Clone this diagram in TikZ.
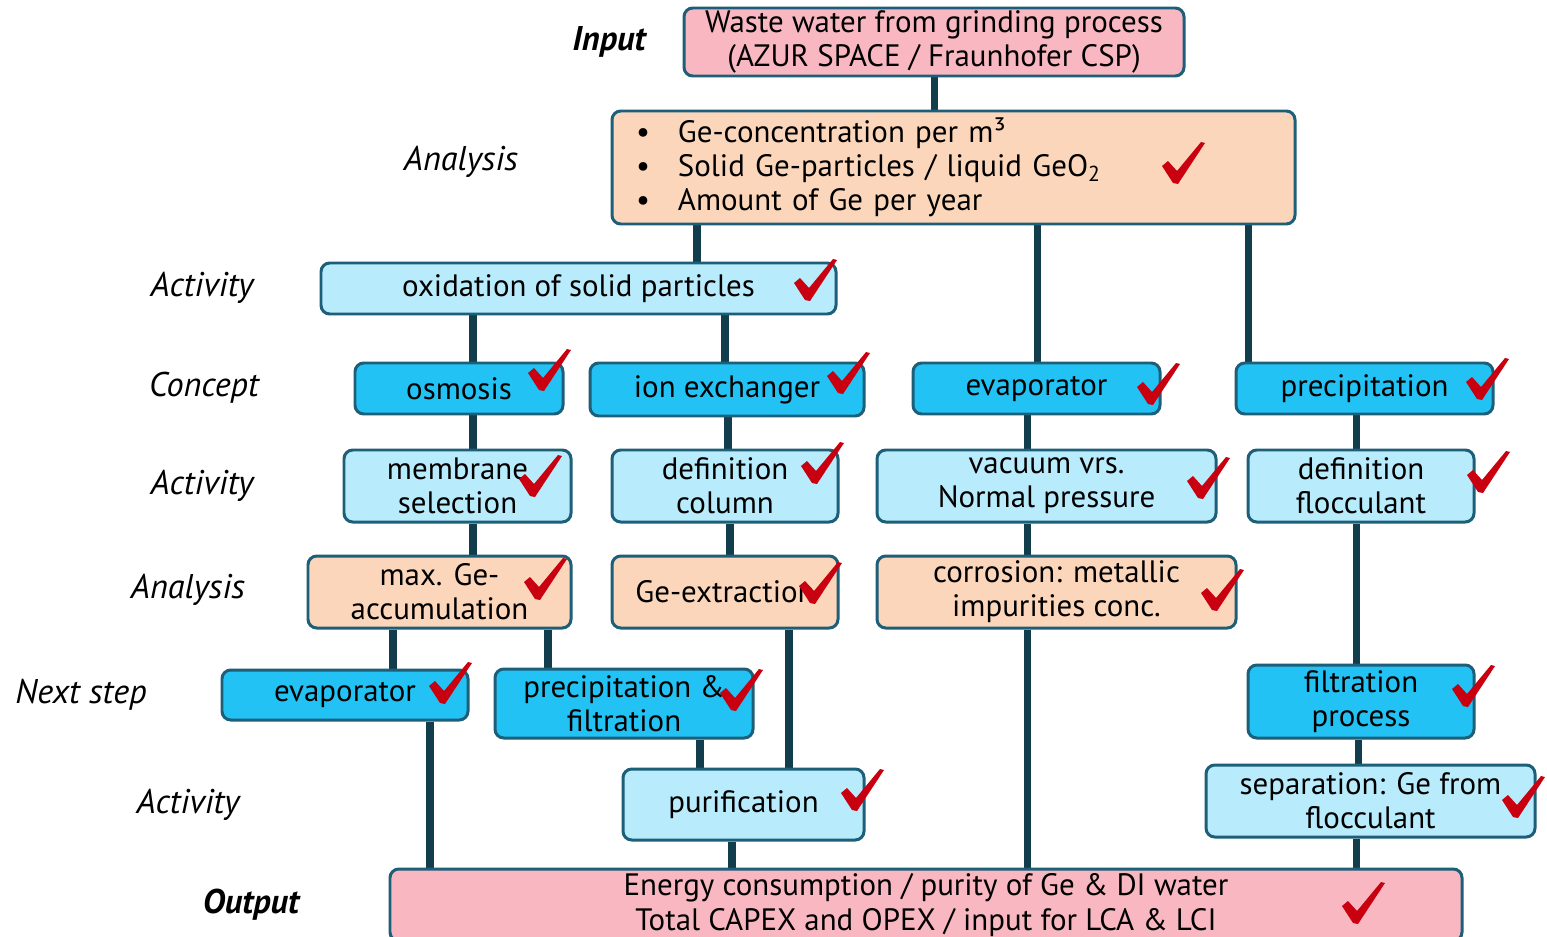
\documentclass[tikz,border=0pt]{standalone}
\usepackage{fontspec}
\setmainfont{PT Sans}
\usetikzlibrary{backgrounds}
\definecolor{gepink}{HTML}{F9B7C1}
\definecolor{gepeach}{HTML}{FCD6BA}
\definecolor{gelight}{HTML}{B8EBFB}
\definecolor{geblue}{HTML}{22C3F4}
\definecolor{geedge}{HTML}{1D5E78}
\definecolor{geline}{HTML}{113D4D}
\definecolor{getick}{HTML}{C8000F}

\tikzset{
  gebox/.style={draw=geedge, line width=1.7pt, rounded corners=5pt, align=center,
    inner sep=0pt, font=\fontsize{17.6}{19.5}\selectfont},
  sz/.style 2 args={minimum width=#1*0.02cm, minimum height=#2*0.02cm},
  pinkbox/.style={gebox, fill=gepink},
  peachbox/.style={gebox, fill=gepeach},
  lightbox/.style={gebox, fill=gelight},
  bluebox/.style={gebox, fill=geblue},
  rowlabel/.style={font=\fontsize{19.5}{22}\selectfont\itshape},
  link/.style={draw=geline, line width=4pt},
  gecheck/.pic={\fill[getick] (-21,3) -- (-15,-2) -- (-6,8) -- (18,-21) -- (22,-20)
    -- (-5,21) -- (-10,20) -- cycle;}
}

\begin{document}
\begin{tikzpicture}[x=0.02cm, y=-0.02cm]
\useasboundingbox (0,0) rectangle (1547,936);

% row labels
\node[rowlabel, font=\fontsize{19.5}{22}\selectfont\bfseries\itshape] (lin) at (609,42) {Input};
\node[rowlabel] (lana1) at (461,162) {Analysis};
\node[rowlabel] (lact1) at (202,288) {Activity};
\node[rowlabel] (lcon) at (204,388) {Concept};
\node[rowlabel] (lact2) at (202,486) {Activity};
\node[rowlabel] (lana2) at (188,590) {Analysis};
\node[rowlabel] (lnext) at (81,695) {Next step};
\node[rowlabel] (lact3) at (188,805) {Activity};
\node[rowlabel, font=\fontsize{19.5}{22}\selectfont\bfseries\itshape] (lout) at (251,905) {Output};

% boxes
\node[pinkbox, sz={500}{68}] (inp) at (934,42) {Waste water from grinding process\\(AZUR SPACE / Fraunhofer CSP)};
\node[peachbox, sz={683}{113}, text width=635*0.02cm, align=left] (ana) at (953.5,167.5)
  {\makebox[0.84cm][l]{\textbullet}Ge-concentration per m³\\
   \makebox[0.84cm][l]{\textbullet}Solid Ge-particles / liquid GeO\textsubscript{2}\\
   \makebox[0.84cm][l]{\textbullet}Amount of Ge per year};
\node[lightbox, sz={515}{51}] (ox) at (578.5,288.5) {oxidation of solid particles};

\node[bluebox, sz={208}{51}] (osm) at (459,388.5) {osmosis};
\node[bluebox, sz={274}{53}] (ion) at (727,389.5) {ion exchanger};
\node[bluebox, sz={247}{51}] (evp) at (1036.5,388.5) {evaporator};
\node[bluebox, sz={257}{51}] (prc) at (1364.5,388.5) {precipitation};

\node[lightbox, sz={227}{72}] (mem) at (457.5,486) {membrane\\selection};
\node[lightbox, sz={226}{72}] (dcol) at (725,486) {definition\\column};
\node[lightbox, sz={339}{72}] (vac) at (1046.5,486) {vacuum vrs.\\Normal pressure};
\node[lightbox, sz={226}{72}] (dfl) at (1361,486) {definition\\flocculant};

\node[peachbox, sz={263}{72}] (maxg) at (439.5,592) {max. Ge-\\accumulation};
\node[peachbox, sz={226}{72}] (gex) at (725,592) {Ge-extraction};
\node[peachbox, sz={359}{72}] (cor) at (1056.5,592) {corrosion: metallic\\impurities conc.};

\node[bluebox, sz={246}{50}] (evn) at (345,695) {evaporator};
\node[bluebox, sz={258}{69}] (pf) at (624,703.5) {precipitation \&\\filtration};
\node[bluebox, sz={226}{73}] (fp) at (1361,701.5) {filtration\\process};

\node[lightbox, sz={241}{71}] (pur) at (743.5,804.5) {purification};
\node[lightbox, sz={329}{72}] (sep) at (1370.5,801) {separation: Ge from\\flocculant};

\node[pinkbox, sz={1072}{72}] (out) at (926,905) {Energy consumption / purity of Ge \& DI water\\Total CAPEX and OPEX / input for LCA \& LCI};

% connectors
\begin{scope}[on background layer]
\foreach \x/\a/\b in {934/inp/ana, 697/ana/ox, 1037/ana/evp, 1248/ana/prc,
    473/ox/osm, 725/ox/ion, 473/osm/mem, 728/ion/dcol, 1027/evp/vac, 1356/prc/dfl,
    473/mem/maxg, 730/dcol/gex, 1027/vac/cor, 1356/dfl/fp,
    393/maxg/evn, 548/maxg/pf, 789/gex/pur, 1027/cor/out,
    430/evn/out, 700/pf/pur, 732/pur/out, 1358/fp/sep, 1356/sep/out}
  \draw[link] (\x,0 |- \a.south) -- (\x,0 |- \b.north);
\end{scope}

% check marks
\foreach \x/\y in {1183/163, 815/280, 549/370, 848/373, 1158/384, 1487/379,
    540/476, 822/463, 1208/478, 1488/472, 545/579, 820/583, 1222/590,
    450/683, 741/690, 1473/686, 862/790, 1523/797, 1363/903}
  \pic at (\x,\y) {gecheck};
\end{tikzpicture}
\end{document}
